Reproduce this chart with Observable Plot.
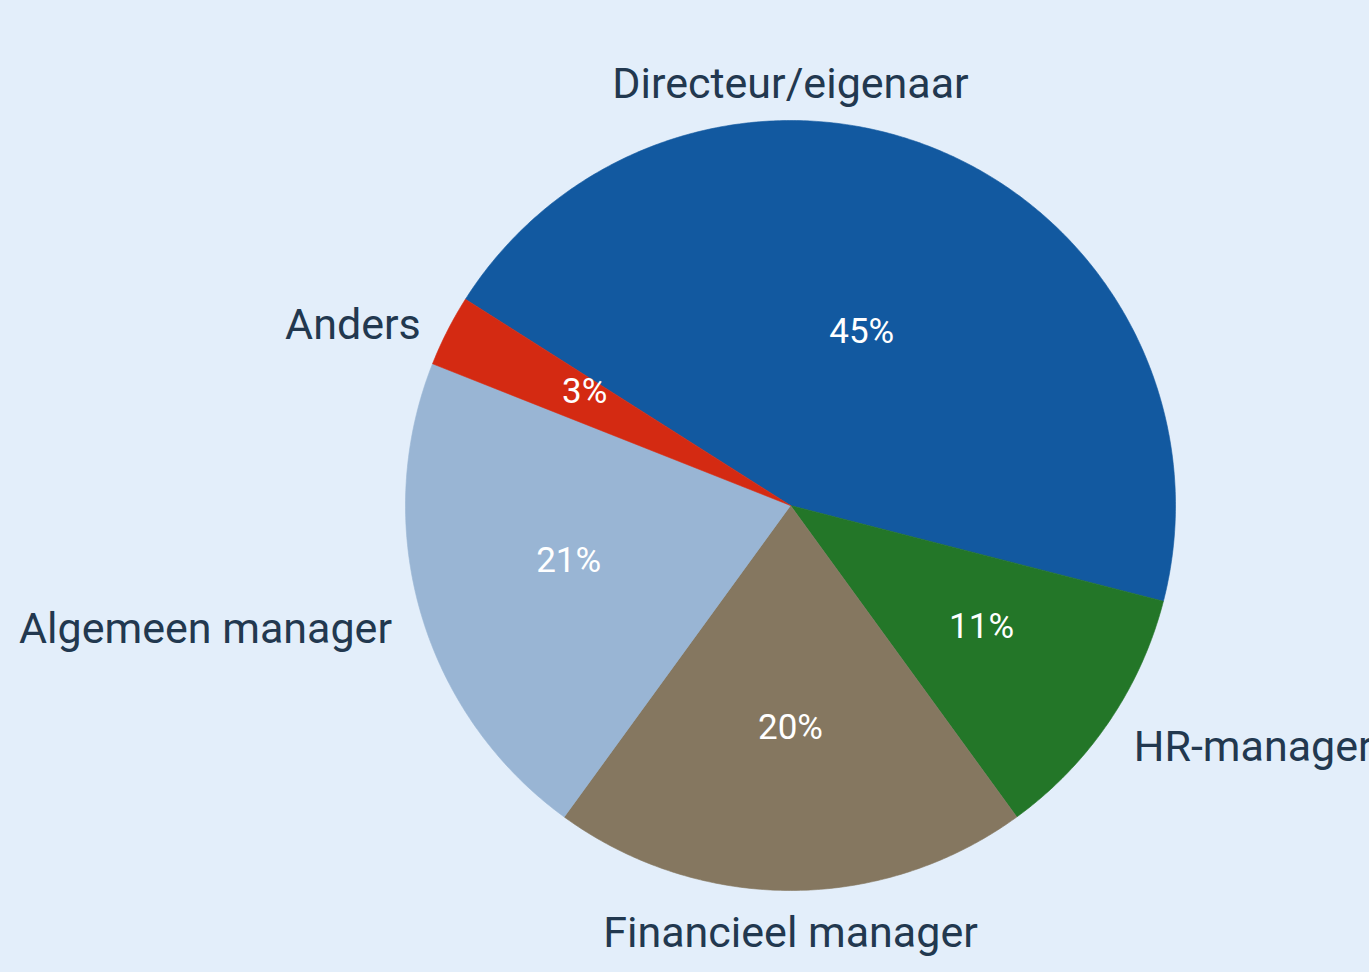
<!DOCTYPE html>
<html>
<head>
<meta charset="utf-8">
<script src="https://cdn.jsdelivr.net/npm/d3@7"></script>
<script src="https://cdn.jsdelivr.net/npm/@observablehq/plot@0.6"></script>
<style>
  html, body { margin: 0; padding: 0; background: #e3eefa; }
  #chart svg { display: block; }
</style>
</head>
<body>
<div id="chart"></div>
<script>
// ---- Data ----
const categories = ["Directeur/eigenaar", "HR-manager", "Financieel manager", "Algemeen manager", "Anders"];
const values = [45, 11, 20, 21, 3];
const colors = ["#1259a0", "#237628", "#857760", "#99b5d4", "#d42a12"];

// ---- Layout ----
const W = 1369, H = 972;
const cx = 790, cy = 505, R = 385;           // pie centre and radius in px
const startDeg = -57.6;                        // clockwise from 12 o'clock
const fontFamily = "Roboto, 'Noto Sans', sans-serif";
const textColor = "#22384f";

const total = d3.sum(values);
const rad = d => d * Math.PI / 180;

// build slices in unit coordinates (radius = 1, y up)
let acc = startDeg;
const slices = categories.map((c, i) => {
  const span = values[i] / total * 360;
  const a0 = acc, a1 = acc + span;
  acc = a1;
  return {cat: c, value: values[i], color: colors[i], a0, a1, mid: (a0 + a1) / 2, span};
});

function polygon(s) {
  const pts = [{x: 0, y: 0}];
  const n = Math.max(4, Math.ceil(s.span / 0.5));
  for (let k = 0; k <= n; k++) {
    const a = rad(s.a0 + (s.span * k) / n);
    pts.push({x: Math.sin(a), y: Math.cos(a)});
  }
  pts.push({x: 0, y: 0});
  return pts;
}

// inner percentage labels near the sector centroid (capped at 0.6 R)
const inner = slices.map(s => {
  const th = rad(s.span);
  const d = Math.min(0.6, (4 * Math.sin(th / 2)) / (3 * th));
  const a = rad(s.mid);
  return {x: d * Math.sin(a), y: d * Math.cos(a), text: `${s.value}%`};
});

// outer name labels
const containsAngle = (s, ang) => {
  const norm = v => ((v % 360) + 360) % 360;
  const rel = norm(ang - norm(s.a0));
  return rel <= s.span;
};
const outer = slices.map(s => {
  let ang = s.mid, anchor, dy = 0;
  let off = 30 / R;
  if (containsAngle(s, 0)) { ang = 0; anchor = "middle"; off = 36 / R; }
  else if (containsAngle(s, 180)) { ang = 180; anchor = "middle"; off = 43 / R; }
  else {
    anchor = Math.sin(rad(ang)) >= 0 ? "start" : "end";
    dy = 8;
  }
  const a = rad(ang);
  return {x: (1 + off) * Math.sin(a), y: (1 + off) * Math.cos(a) - dy / R, text: s.cat, anchor};
});

const xDomain = [(0 - cx) / R, (W - cx) / R];
const yDomain = [(cy - H) / R, (cy - 0) / R];

const marks = [];
slices.forEach(s => {
  marks.push(Plot.line(polygon(s), {x: "x", y: "y", fill: s.color, stroke: s.color, strokeWidth: 0.6, curve: "linear"}));
});
marks.push(Plot.text(inner, {x: "x", y: "y", text: "text", fill: "white", fontSize: 35, fontFamily, lineAnchor: "middle", dy: -9}));
["start", "middle", "end"].forEach(anc => {
  marks.push(Plot.text(outer.filter(d => d.anchor === anc), {
    x: "x", y: "y", text: "text", textAnchor: anc, fill: textColor, fontSize: 43, fontFamily, lineAnchor: "middle"
  }));
});

const chart = Plot.plot({
  width: W,
  height: H,
  margin: 0,
  style: {background: "transparent", overflow: "visible"},
  x: {domain: xDomain, axis: null},
  y: {domain: yDomain, axis: null},
  marks
});
document.getElementById("chart").appendChild(chart);
</script>
</body>
</html>
